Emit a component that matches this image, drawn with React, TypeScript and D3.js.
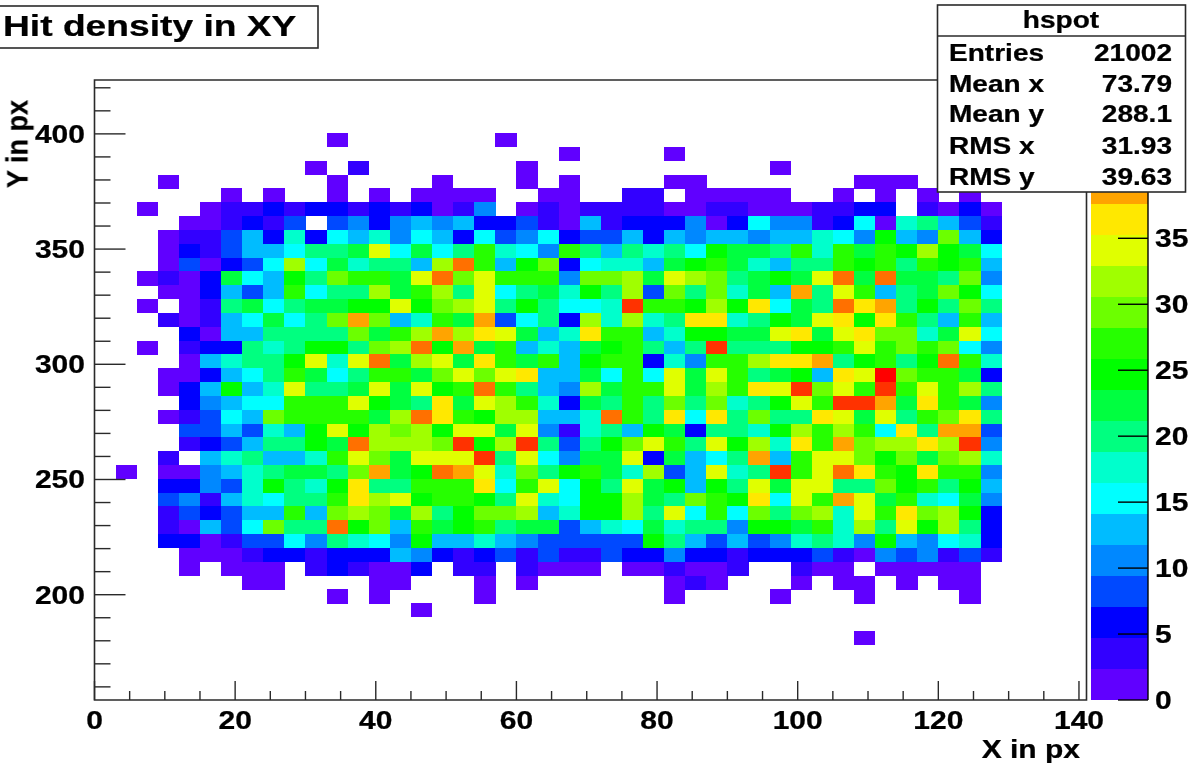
import React from 'react';
import * as d3 from 'd3';

const _ = -1; // empty bin
// contour level of each X bin (bin width 3 px), one list per Y bin, top row first
const row40 = [_,_,_,_,_,_,_,_,_,_,_,0,_,_,_,_,_,_,_,0];
const row39 = [_,_,_,_,_,_,_,_,_,_,_,_,_,_,_,_,_,_,_,_,_,_,0,_,_,_,_,0];
const row38 = [_,_,_,_,_,_,_,_,_,_,0,_,1,_,_,_,_,_,_,_,0,_,_,_,_,_,_,_,_,_,_,_,0];
const row37 = [_,_,_,0,_,_,_,_,_,_,_,0,_,_,_,_,0,_,_,_,0,_,0,_,_,_,_,0,0,_,_,_,_,_,_,_,0,0,0];
const row36 = [_,_,_,_,_,_,0,_,0,_,_,0,_,0,_,0,0,0,0,_,_,0,0,_,_,1,1,_,0,0,0,0,0,_,_,0,_,0,_,0,_,0];
const row35 = [_,_,0,_,_,0,1,1,2,1,2,2,1,2,1,2,0,1,4,_,0,1,0,1,1,1,1,0,0,1,1,0,0,0,1,1,2,2,_,1,0,2,0];
const row34 = [_,_,_,_,0,0,1,2,1,3,_,3,4,2,4,5,4,5,2,2,3,1,0,5,1,2,2,2,4,0,2,6,4,4,1,2,6,0,7,8,5,3,1];
const row33 = [_,_,_,0,1,1,3,5,2,7,2,6,5,7,4,6,5,2,6,3,4,6,2,3,3,5,2,5,4,5,5,4,5,5,7,6,4,10,5,4,12,5,2];
const row32 = [_,_,_,0,2,1,3,5,5,6,8,8,9,14,6,9,6,8,11,7,6,4,11,8,5,8,7,8,6,10,9,9,8,11,7,11,9,11,10,13,10,9,6];
const row31 = [_,_,_,0,3,0,2,3,6,13,6,9,7,8,8,5,13,17,11,5,10,12,2,6,7,7,5,9,10,11,9,7,5,8,8,11,10,11,8,11,10,11,5];
const row30 = [_,_,0,1,0,2,9,6,5,10,8,12,11,11,9,14,17,12,14,11,11,11,4,12,12,13,9,14,13,12,8,9,10,9,14,17,9,17,9,9,8,12,4];
const row29 = [_,_,_,0,0,2,5,3,5,11,6,8,8,13,9,11,13,8,14,6,8,9,7,10,8,13,3,12,8,12,7,9,5,16,8,14,11,5,8,9,12,10,6];
const row28 = [_,_,0,_,0,1,8,9,6,8,9,9,10,10,14,10,12,13,14,8,10,8,6,6,7,18,11,11,10,13,10,15,6,9,8,17,15,16,8,10,8,12,8];
const row27 = [_,_,_,1,0,1,5,6,9,6,8,12,16,12,5,7,11,9,16,3,6,8,2,13,7,13,7,8,15,15,7,8,10,9,14,15,10,15,11,8,5,11,5];
const row26 = [_,_,_,_,2,0,5,5,8,8,8,8,12,9,11,13,16,13,15,14,9,5,7,15,11,11,5,7,10,10,9,9,14,15,9,14,15,12,12,7,9,14,6];
const row25 = [_,_,0,_,1,2,2,8,7,8,10,10,8,12,13,17,10,16,9,11,5,7,5,9,10,11,8,5,8,18,8,8,8,10,10,11,14,11,12,11,12,6,4];
const row24 = [_,_,_,_,0,5,7,8,8,10,14,7,14,17,9,13,14,9,15,11,9,11,5,10,11,11,2,7,4,11,11,13,15,15,16,8,10,11,8,10,17,11,7];
const row23 = [_,_,_,0,0,2,5,6,8,11,9,6,8,11,11,9,12,14,12,14,15,5,5,9,6,11,6,14,9,14,11,8,9,10,5,15,14,19,12,11,11,9,2];
const row22 = [_,_,_,0,2,5,10,5,7,14,8,8,9,14,9,14,10,11,17,11,8,5,4,13,9,11,11,14,9,13,11,15,14,18,12,14,11,18,11,14,11,13,8];
const row21 = [_,_,_,_,2,4,5,6,6,11,11,11,14,10,9,8,15,9,14,13,11,7,2,9,8,11,8,12,8,12,7,8,10,14,11,18,18,16,9,15,11,9,4];
const row20 = [_,_,_,0,1,3,6,5,12,11,11,11,11,9,13,17,15,11,10,13,13,5,5,7,17,11,8,15,6,15,8,12,8,8,15,14,9,14,8,11,12,15,8];
const row19 = [_,_,_,_,3,3,5,3,7,5,10,14,10,13,12,13,10,14,14,9,14,4,1,7,8,5,10,9,2,8,8,7,10,13,11,13,11,6,15,8,16,16,3];
const row18 = [_,_,_,_,1,2,3,5,8,8,10,9,17,13,13,13,12,18,10,13,18,8,3,8,10,12,14,11,8,14,10,13,7,15,11,16,12,13,13,15,13,18,4];
const row17 = [_,_,_,1,_,5,7,8,5,5,7,11,14,12,9,14,14,14,18,8,14,6,4,9,9,14,2,9,5,6,8,16,5,11,14,14,12,10,12,9,12,13,7];
const row16 = [_,0,_,0,0,4,5,7,8,9,9,8,12,16,9,10,17,16,14,7,12,8,10,11,9,7,13,3,5,14,7,8,18,11,14,17,15,11,10,15,11,11,4];
const row15 = [_,_,_,2,2,4,3,7,10,8,7,10,15,8,8,11,11,11,15,6,11,14,6,10,8,14,9,10,5,10,8,14,9,14,14,8,8,12,10,11,8,10,5];
const row14 = [_,_,_,3,4,1,5,7,6,8,8,11,15,13,14,10,11,11,10,8,14,7,6,10,10,13,9,8,12,11,10,15,6,14,11,16,14,9,11,7,6,9,4];
const row13 = [_,_,_,1,3,2,3,5,5,11,5,12,13,12,9,13,8,10,12,12,13,5,7,10,10,13,8,14,6,11,6,12,8,12,13,7,14,11,15,12,13,10,2];
const row12 = [_,_,_,1,0,5,3,6,12,8,8,17,10,12,5,11,9,10,11,8,9,9,3,5,7,6,9,7,8,8,4,10,10,9,11,7,13,8,14,10,13,8,2];
const row11 = [_,_,_,2,2,0,1,3,3,6,4,8,7,6,4,10,5,5,7,5,4,3,3,3,3,3,10,8,5,3,5,3,4,7,8,7,4,10,5,4,6,7,2];
const row10 = [_,_,_,_,0,0,0,1,2,2,1,2,2,2,5,4,2,1,2,3,1,3,1,1,3,2,2,4,2,2,1,2,2,2,3,1,0,4,3,4,1,3,1];
const row9 = [_,_,_,_,0,_,0,0,0,_,1,2,1,0,0,2,_,1,1,_,1,0,0,0,_,0,0,1,0,0,1,_,_,1,0,0,_,0,0,0,0,0];
const row8 = [_,_,_,_,_,_,_,0,0,_,_,_,_,0,0,_,_,_,0,_,0,_,_,_,_,_,_,0,1,0,_,_,_,0,_,0,0,_,0,_,0,0];
const row7 = [_,_,_,_,_,_,_,_,_,_,_,0,_,0,_,_,_,_,0,_,_,_,_,_,_,_,_,0,_,_,_,_,0,_,_,_,0,_,_,_,_,0];
const row6 = [_,_,_,_,_,_,_,_,_,_,_,_,_,_,_,0];
const row5: number[] = [];
const row4 = [_,_,_,_,_,_,_,_,_,_,_,_,_,_,_,_,_,_,_,_,_,_,_,_,_,_,_,_,_,_,_,_,_,_,_,_,0];
const levelRows = [row40,row39,row38,row37,row36,row35,row34,row33,row32,row31,row30,row29,row28,row27,row26,row25,row24,row23,row22,row21,row20,row19,row18,row17,row16,row15,row14,row13,row12,row11,row10,row9,row8,row7,row6,row5,row4];

const palette = ['#6000ff','#3000ff','#0000ff','#0048ff','#0088ff','#00bcff','#00ffff','#00ffcc','#00ff80','#00ff40','#00ff00','#28ff00','#6cff00','#a0ff00','#e0ff00','#ffe800','#ffa400','#ff7000','#ff3000','#ff0000'];
const xDomain = [0, 141];
const yDomain = [154.3, 424.9];
const zMax = 47;
const xBinWidth = 3;
const yBinWidth = 6;
const xMajor = [0,20,40,60,80,100,120,140];
const xMinor = d3.range(0,141,5);
const yMajor = [200,250,300,350,400];
const yMinor = d3.range(160,421,10);
const zTicks = [0,5,10,15,20,25,30,35];
const statsRows = [['Entries','21002',61],['Mean x','73.79',92],['Mean y','288.1',122],['RMS x','31.93',154],['RMS y','39.63',185]] as const;

const x = d3.scaleLinear().domain(xDomain).range([94.5, 1086]);
const y = d3.scaleLinear().domain(yDomain).range([700, 76.5]);
const z = d3.scaleLinear().domain([0, zMax]).range([700, 80]);
const color = d3.scaleOrdinal<number,string>().domain(d3.range(20)).range(palette);

const FONT = '"Liberation Sans", Arial, sans-serif';
const INK = '#2a2a2a';
const T = ({x: tx, y: ty, s, anchor = 'start', size = 25, sx = 1.2, rot = 0}: any) => (
  <text transform={`translate(${tx},${ty}) scale(${sx},1) rotate(${rot})`} textAnchor={anchor}
    fontFamily={FONT} fontWeight="bold" fontSize={size} fill="#000" stroke="#000" strokeWidth={0.25}>{s}</text>
);

export default function App() {
  return (
    <svg width={1196} height={768} style={{position:'absolute',left:0,top:0,background:'#fff'}}>
      <defs>
        <filter id="soft" x="0" y="0" width="100%" height="100%" filterUnits="userSpaceOnUse" primitiveUnits="userSpaceOnUse">
          <feGaussianBlur stdDeviation="0.5" />
        </filter>
      </defs>
      <g filter="url(#soft)">
        <rect x={0} y={0} width={1196} height={768} fill="#fff" />
        <g shapeRendering="crispEdges">
          {levelRows.flatMap((cells, i) => cells.map((lvl, k) => lvl < 0 ? null : (
            <rect key={`${i}-${k}`} x={x(k*xBinWidth)} width={x(xBinWidth)-x(0)+0.3}
              y={y(yDomain[0]+(41-i)*yBinWidth)} height={y(0)-y(yBinWidth)+0.3} fill={color(lvl)} />
          )))}
          {palette.map((c, i) => (
            <rect key={c} x={1091} width={57} y={z((i+1)*zMax/20)} height={z(0)-z(zMax/20)+0.3} fill={c} />
          ))}
        </g>
        <g stroke={INK} fill="none">
          <path d={`M${x(0)},80V700H1086.5V80Z`} strokeWidth={1.6} />
          <path d={`M1148,80V700`} strokeWidth={1.4} stroke="#000" />
          {xMinor.map(v => <line key={v} x1={x(v)} x2={x(v)} y1={700} y2={xMajor.includes(v)?681:691} strokeWidth={1.4} />)}
          {yMinor.map(v => <line key={v} x1={x(0)} x2={x(0)+(yMajor.includes(v)?31:16)} y1={y(v)} y2={y(v)} strokeWidth={1.4} />)}
          {zTicks.map(v => <line key={v} x1={1118} x2={1148} y1={z(v)} y2={z(v)} strokeWidth={1.4} stroke="#000" />)}
        </g>
        {xMajor.map(v => <T key={v} x={x(v)} y={729} s={v} anchor="middle" />)}
        {yMajor.map(v => <T key={v} x={85} y={y(v)+9} s={v} anchor="end" />)}
        {zTicks.map(v => <T key={v} x={1155} y={z(v)+9} s={v} />)}
        <T x={1080} y={758} s="X in px" anchor="end" />
        <T x={27} y={188} s="Y in px" rot={-90} size={27} sx={1.1} />
        <rect x={-2} y={6} width={320} height={42} fill="#fff" stroke={INK} strokeWidth={1.6} />
        <T x={3} y={36} s="Hit density in XY" size={30} sx={1.24} />
        <rect x={937.5} y={5} width={248} height={187} fill="#fff" stroke={INK} strokeWidth={1.6} />
        <line x1={937.5} x2={1185.5} y1={36} y2={36} stroke={INK} strokeWidth={1.4} />
        <T x={1061} y={28} s="hspot" anchor="middle" size={23} sx={1.22} />
        {statsRows.map(([k, v, by]) => (
          <g key={k}>
            <T x={949} y={by} s={k} size={23} sx={1.22} />
            <T x={1172} y={by} s={v} size={23} sx={1.22} anchor="end" />
          </g>
        ))}
      </g>
    </svg>
  );
}
